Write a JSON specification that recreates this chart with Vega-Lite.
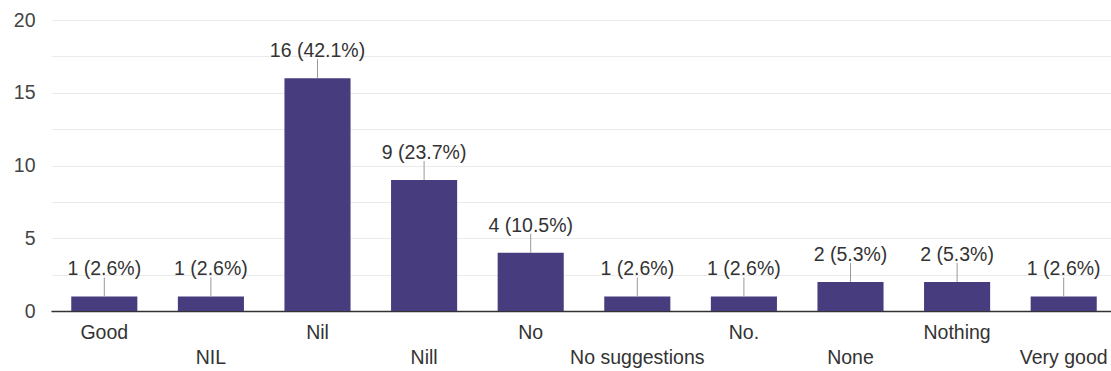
{
  "$schema": "https://vega.github.io/schema/vega-lite/v6.json",
  "width": 1066,
  "height": 291,
  "autosize": {"type": "none"},
  "padding": {"left": 51, "top": 20, "right": 0, "bottom": 60},
  "background": "white",
  "config": {
    "view": {"stroke": null},
    "font": "Liberation Sans",
    "text": {"font": "Liberation Sans"}
  },
  "data": {
    "values": [
      {"answer": "Good", "count": 1, "label": "1 (2.6%)"},
      {"answer": "NIL", "count": 1, "label": "1 (2.6%)"},
      {"answer": "Nil", "count": 16, "label": "16 (42.1%)"},
      {"answer": "Nill", "count": 9, "label": "9 (23.7%)"},
      {"answer": "No", "count": 4, "label": "4 (10.5%)"},
      {"answer": "No suggestions", "count": 1, "label": "1 (2.6%)"},
      {"answer": "No.", "count": 1, "label": "1 (2.6%)"},
      {"answer": "None", "count": 2, "label": "2 (5.3%)"},
      {"answer": "Nothing", "count": 2, "label": "2 (5.3%)"},
      {"answer": "Very good", "count": 1, "label": "1 (2.6%)"}
    ]
  },
  "encoding": {
    "x": {
      "field": "answer",
      "type": "nominal",
      "sort": null,
      "scale": {"paddingInner": 0.38, "paddingOuter": 0.19},
      "axis": {
        "title": null,
        "labelAngle": 0,
        "ticks": false,
        "domain": true,
        "domainColor": "#333333",
        "domainWidth": 1.5,
        "grid": false,
        "labelFontSize": 19.5,
        "labelColor": "#333333",
        "labelPadding": 12,
        "labelLineHeight": 25,
        "labelFont": "Liberation Sans",
        "labelOverlap": false,
        "labelExpr": "indexof(['NIL','Nill','No suggestions','None','Very good'], datum.value) >= 0 ? ['', datum.value] : datum.value"
      }
    },
    "y": {
      "field": "count",
      "type": "quantitative",
      "scale": {"domain": [0, 20], "nice": false},
      "axis": {
        "title": null,
        "values": [0, 2.5, 5, 7.5, 10, 12.5, 15, 17.5, 20],
        "labelExpr": "datum.value % 5 == 0 ? datum.value : ''",
        "ticks": false,
        "domain": false,
        "gridColor": "#ebebeb",
        "gridWidth": 1,
        "labelFontSize": 19.5,
        "labelColor": "#444444",
        "labelPadding": 16,
        "labelFont": "Liberation Sans"
      }
    }
  },
  "layer": [
    {"mark": {"type": "bar", "color": "#473c7e"}},
    {
      "mark": {"type": "rule", "color": "#999999", "strokeWidth": 1, "y2Offset": -19},
      "encoding": {"y2": {"field": "count"}}
    },
    {
      "mark": {"type": "text", "baseline": "alphabetic", "dy": -21, "fontSize": 19.5, "color": "#333333"},
      "encoding": {"text": {"field": "label"}}
    }
  ]
}
